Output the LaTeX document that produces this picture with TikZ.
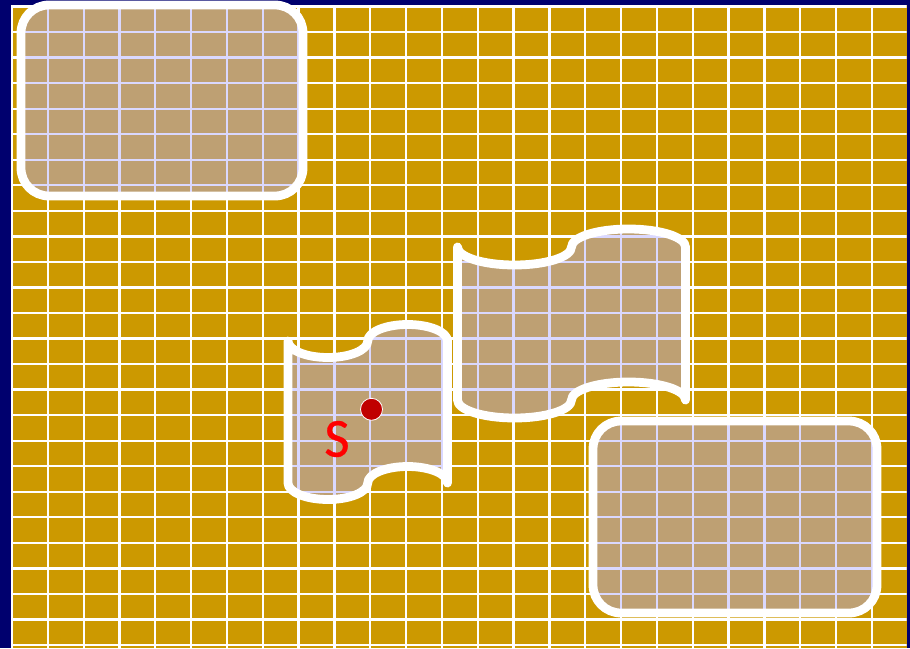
\documentclass[tikz,border=0pt]{standalone}
\usepackage{fontspec}
\newfontfamily\labelfont[FakeBold=0.7]{Carlito}
\definecolor{navybg}{RGB}{0,0,110}
\definecolor{goldbg}{RGB}{204,153,0}
\definecolor{shapefill}{RGB}{175,170,255}
\definecolor{dotred}{RGB}{192,0,0}
\newcommand\tapeshape[5]{%
  \pgfmathsetmacro\tpL{#1}\pgfmathsetmacro\tpR{#2}%
  \pgfmathsetmacro\tpT{#3}\pgfmathsetmacro\tpB{#4}\pgfmathsetmacro\tpa{#5}%
  \pgfmathsetmacro\tpq{(\tpR-\tpL)/4}\pgfmathsetmacro\tpM{(\tpL+\tpR)/2}%
  \pgfmathsetmacro\tpkq{0.5523*\tpq}\pgfmathsetmacro\tpka{0.5523*\tpa}%
  \draw[region] (\tpL,\tpT)
    .. controls (\tpL,{\tpT+\tpka}) and ({\tpL+\tpq-\tpkq},{\tpT+\tpa}) .. ({\tpL+\tpq},{\tpT+\tpa})
    .. controls ({\tpL+\tpq+\tpkq},{\tpT+\tpa}) and (\tpM,{\tpT+\tpka}) .. (\tpM,\tpT)
    .. controls (\tpM,{\tpT-\tpka}) and ({\tpM+\tpq-\tpkq},{\tpT-\tpa}) .. ({\tpM+\tpq},{\tpT-\tpa})
    .. controls ({\tpM+\tpq+\tpkq},{\tpT-\tpa}) and (\tpR,{\tpT-\tpka}) .. (\tpR,\tpT)
    -- (\tpR,\tpB)
    .. controls (\tpR,{\tpB-\tpka}) and ({\tpM+\tpq+\tpkq},{\tpB-\tpa}) .. ({\tpM+\tpq},{\tpB-\tpa})
    .. controls ({\tpM+\tpq-\tpkq},{\tpB-\tpa}) and (\tpM,{\tpB-\tpka}) .. (\tpM,\tpB)
    .. controls (\tpM,{\tpB+\tpka}) and ({\tpL+\tpq+\tpkq},{\tpB+\tpa}) .. ({\tpL+\tpq},{\tpB+\tpa})
    .. controls ({\tpL+\tpq-\tpkq},{\tpB+\tpa}) and (\tpL,{\tpB+\tpka}) .. (\tpL,\tpB)
    -- cycle;%
}
\begin{document}
\begin{tikzpicture}[x=1pt,y=-1pt,
  gridline/.style={white,line width=2.3pt},
  region/.style={draw=white,line width=8.8pt,line join=round,line cap=round,
                 fill=shapefill,fill opacity=0.45}]
\useasboundingbox (0,0) rectangle (910,648);
\fill[navybg] (0,0) rectangle (910,648);
\fill[goldbg] (11,5) rectangle (906.5,648);
\begin{scope}
  \clip (11,5) rectangle (906.5,648);
  \foreach \i in {0,...,25} \draw[gridline] ({12+35.83*\i},0) -- ({12+35.83*\i},648);
  \foreach \j in {0,...,25} \draw[gridline] (0,{6.5+25.54*\j}) -- (910,{6.5+25.54*\j});
\end{scope}
% rounded rectangles
\draw[region,rounded corners=28pt] (21,5) rectangle (303,196);
\draw[region,rounded corners=28pt] (593,421) rectangle (877,613);
% tapes
\tapeshape{288}{447.5}{341}{483}{16.5}
\tapeshape{457.5}{685.5}{247}{400}{18}
% marker and label
\node[circle,fill=dotred,draw=white,line width=0.8pt,minimum size=22pt,inner sep=0pt] (dot) at (371.5,409.3) {};
\node[text=red,font=\labelfont\fontsize{55}{55}\selectfont,inner sep=0pt] (slabel) at (337,439) {S};
\end{tikzpicture}
\end{document}
